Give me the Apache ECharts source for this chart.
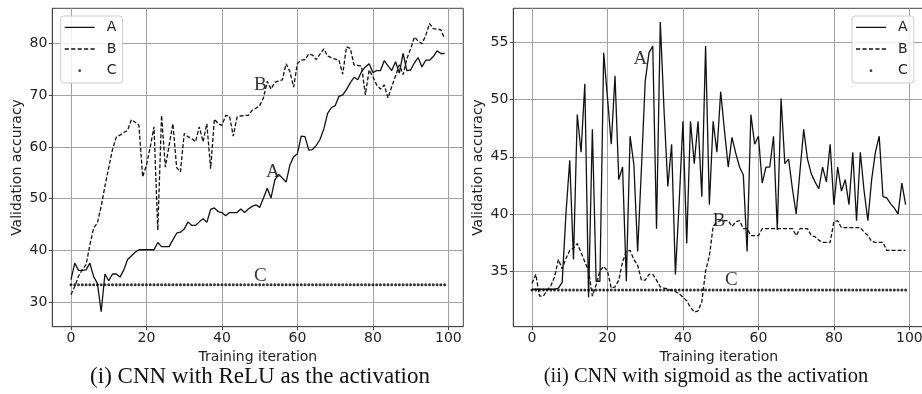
<!DOCTYPE html>
<html><head><meta charset="utf-8">
<script src="https://cdn.jsdelivr.net/npm/echarts@6/dist/echarts.min.js"></script>
<style>html,body{margin:0;padding:0;background:#fff}#c{width:922px;height:394px}</style>
</head><body><div id="c"></div>
<script>
const iterations = [0,1,2,3,4,5,6,7,8,9,10,11,12,13,14,15,16,17,18,19,20,21,22,23,24,25,26,27,28,29,30,31,32,33,34,35,36,37,38,39,40,41,42,43,44,45,46,47,48,49,50,51,52,53,54,55,56,57,58,59,60,61,62,63,64,65,66,67,68,69,70,71,72,73,74,75,76,77,78,79,80,81,82,83,84,85,86,87,88,89,90,91,92,93,94,95,96,97,98,99];

// (i) CNN with ReLU
const reluA = [34.3,37.5,36.1,36.1,36.2,37.5,34.9,33.6,28.1,35.4,
  34.1,35.4,35.4,34.8,36.2,38.2,38.9,39.6,40.1,40.1,
  40.1,40.1,40.1,41.5,40.7,40.7,40.7,42.0,43.3,43.5,
  44.1,45.5,44.8,44.8,45.5,46.1,45.4,47.9,48.2,47.5,
  47.3,46.7,47.3,47.3,47.3,48.0,47.3,48.0,48.5,48.8,
  48.3,50.1,52.0,50.1,53.6,54.7,54.0,53.2,56.5,58.1,
  58.7,62.1,62.0,59.4,59.5,60.3,61.5,63.5,66.5,67.6,
  68.0,69.8,70.1,71.1,72.4,73.5,73.0,74.6,75.5,76.1,
  74.4,74.8,74.8,76.7,75.7,74.8,76.5,74.3,78.1,74.8,
  74.9,76.3,77.3,75.5,76.8,76.8,77.5,78.6,78.1,78.1];
const reluB = [31.4,33.0,35.0,36.2,37.2,41.0,44.3,45.3,48.5,52.4,
  56.0,59.5,61.9,62.3,62.8,63.2,65.3,64.8,64.2,54.2,
  56.5,60.0,63.9,43.9,66.1,56.1,60.3,64.5,56.0,55.2,
  62.6,62.0,61.6,61.0,63.9,61.0,64.5,55.8,65.4,64.5,
  64.2,66.1,66.0,62.1,65.8,66.0,66.1,66.1,67.1,67.5,
  68.0,69.5,72.7,71.2,72.5,72.8,73.0,76.1,74.6,71.6,
  76.2,76.8,76.9,78.0,77.8,76.9,78.0,79.0,77.6,77.3,
  77.0,76.8,74.1,79.4,79.1,75.9,75.8,75.6,70.1,74.9,
  73.6,72.0,71.2,72.0,69.5,71.7,73.8,75.9,74.0,77.1,
  79.0,81.3,80.5,80.0,81.6,83.9,82.9,82.8,82.7,81.0];
const reluC = [33.33,33.33,33.33,33.33,33.33,33.33,33.33,33.33,33.33,33.33,
  33.33,33.33,33.33,33.33,33.33,33.33,33.33,33.33,33.33,33.33,
  33.33,33.33,33.33,33.33,33.33,33.33,33.33,33.33,33.33,33.33,
  33.33,33.33,33.33,33.33,33.33,33.33,33.33,33.33,33.33,33.33,
  33.33,33.33,33.33,33.33,33.33,33.33,33.33,33.33,33.33,33.33,
  33.33,33.33,33.33,33.33,33.33,33.33,33.33,33.33,33.33,33.33,
  33.33,33.33,33.33,33.33,33.33,33.33,33.33,33.33,33.33,33.33,
  33.33,33.33,33.33,33.33,33.33,33.33,33.33,33.33,33.33,33.33,
  33.33,33.33,33.33,33.33,33.33,33.33,33.33,33.33,33.33,33.33,
  33.33,33.33,33.33,33.33,33.33,33.33,33.33,33.33,33.33,33.33];

// (ii) CNN with sigmoid
const sigA = [33.4,33.4,33.4,33.4,33.4,33.4,33.4,33.5,34.0,40.0,
  44.7,36.0,48.7,45.4,51.4,32.7,47.4,34.1,34.1,54.1,
  50.2,46.1,52.1,43.0,44.1,34.1,46.8,44.3,36.7,44.0,
  51.6,54.1,54.7,38.7,56.8,49.0,42.4,46.1,34.7,41.0,
  48.1,37.4,48.1,44.4,48.1,41.5,54.7,40.8,48.1,45.4,
  50.7,47.3,44.1,46.7,45.3,44.1,43.4,36.7,48.7,46.1,
  46.8,42.7,44.1,44.1,46.8,38.6,50.1,44.4,44.8,42.2,
  40.0,43.7,47.4,44.8,43.5,42.8,42.2,44.1,42.8,46.1,
  40.8,44.1,42.0,43.0,40.8,45.4,39.4,45.4,42.0,39.4,
  43.0,45.4,46.8,41.5,41.4,40.9,40.5,40.0,42.7,40.8];
const sigB = [33.9,34.7,32.8,32.8,33.3,33.7,34.5,36.0,35.2,36.1,
  36.8,37.0,37.4,36.6,35.8,35.0,32.8,33.8,35.0,35.4,
  35.0,33.5,33.6,34.2,35.8,36.7,36.8,36.0,35.5,34.2,
  34.2,34.7,34.7,34.2,33.6,33.5,33.4,33.3,33.2,33.0,
  32.7,32.4,31.8,31.4,31.5,32.3,35.0,36.3,38.9,39.3,
  39.4,39.4,39.4,38.9,39.3,39.4,38.7,38.7,38.1,38.1,
  38.1,38.7,38.7,38.7,38.7,38.7,38.7,38.7,38.7,38.7,
  38.1,38.7,38.7,38.7,38.1,38.0,37.7,37.5,37.5,37.5,
  39.3,39.4,38.8,38.8,38.8,38.8,38.8,38.8,38.4,38.1,
  37.6,37.5,37.5,37.5,36.8,36.8,36.8,36.8,36.8,36.8];
const sigC = [33.33,33.33,33.33,33.33,33.33,33.33,33.33,33.33,33.33,33.33,
  33.33,33.33,33.33,33.33,33.33,33.33,33.33,33.33,33.33,33.33,
  33.33,33.33,33.33,33.33,33.33,33.33,33.33,33.33,33.33,33.33,
  33.33,33.33,33.33,33.33,33.33,33.33,33.33,33.33,33.33,33.33,
  33.33,33.33,33.33,33.33,33.33,33.33,33.33,33.33,33.33,33.33,
  33.33,33.33,33.33,33.33,33.33,33.33,33.33,33.33,33.33,33.33,
  33.33,33.33,33.33,33.33,33.33,33.33,33.33,33.33,33.33,33.33,
  33.33,33.33,33.33,33.33,33.33,33.33,33.33,33.33,33.33,33.33,
  33.33,33.33,33.33,33.33,33.33,33.33,33.33,33.33,33.33,33.33,
  33.33,33.33,33.33,33.33,33.33,33.33,33.33,33.33,33.33,33.33];

// tick labels
const xTicks = [0, 20, 40, 60, 80, 100];
const reluYTicks = [30, 40, 50, 60, 70, 80];
const sigYTicks = [35, 40, 45, 50, 55];

// in-plot curve annotations: [text, x, y]
const reluNotes = [['A', 53.5, 55.2], ['B', 50.2, 72.0], ['C', 50.2, 35.1]];
const sigNotes = [['A', 28.7, 53.6], ['B', 49.6, 39.4], ['C', 52.8, 34.25]];

const seriesNames = ['A', 'B', 'C'];
const captions = ['(i) CNN with ReLU as the activation', '(ii) CNN with sigmoid as the activation'];

const SANS = 'DejaVu Sans';
const SERIF = 'Liberation Serif';
const INK = '#111';

function pairs(vals) { return vals.map((v, i) => [iterations[i], v]); }

function xAxisCfg(gi) {
  return {
    type: 'value', gridIndex: gi, min: -4.95, max: 103.95, interval: 20,
    name: 'Training iteration', nameLocation: 'middle', nameGap: 21,
    nameTextStyle: { fontFamily: SANS, fontSize: 14, color: '#222' },
    axisLine: { show: true, onZero: false, lineStyle: { color: '#444', width: 1 } },
    axisTick: { show: true, inside: false, length: 3.5, customValues: xTicks, lineStyle: { color: '#444', width: 1 } },
    axisLabel: { customValues: xTicks, fontFamily: SANS, fontSize: 14, color: '#222', margin: 5 },
    splitLine: { show: true, lineStyle: { color: '#a2a2a2', width: 1 } }
  };
}
function yAxisCfg(gi, min, max, ticks) {
  return {
    type: 'value', gridIndex: gi, min: min, max: max,
    name: 'Validation accuracy', nameLocation: 'middle', nameGap: 28,
    nameTextStyle: { fontFamily: SANS, fontSize: 14, color: '#222' },
    axisLine: { show: true, onZero: false, lineStyle: { color: '#444', width: 1 } },
    axisTick: { show: true, inside: false, length: 3.5, customValues: ticks, lineStyle: { color: '#444', width: 1 } },
    axisLabel: { customValues: ticks, fontFamily: SANS, fontSize: 14, color: '#222', margin: 5 },
    splitLine: { show: true, lineStyle: { color: '#a2a2a2', width: 1 } }
  };
}
function gridCfg(left) {
  return { left: left, top: 8.3, width: 411, height: 318.4, show: true, borderColor: '#444', borderWidth: 1,
    backgroundColor: 'transparent', containLabel: false, outerBoundsMode: 'none' };
}
// legend handle glyphs (30 x 14 boxes; tiny corner squares fix the bounding box)
const BOX = 'M0,0h0.01v0.01h-0.01Z M29.99,13.99h0.01v0.01h-0.01Z ';
const solidIcon = 'path://' + BOX + 'M0,6.35h30v1.3h-30Z';
const dashIcon = 'path://' + BOX + 'M0,6.35h4.2v1.3h-4.2Z M6.45,6.35h4.2v1.3h-4.2Z M12.9,6.35h4.2v1.3h-4.2Z M19.35,6.35h4.2v1.3h-4.2Z M25.8,6.35h4.2v1.3h-4.2Z';
const dotIcon = 'path://' + BOX + 'M13.6,7A1.4,1.4,0,1,0,16.4,7A1.4,1.4,0,1,0,13.6,7Z';
function legendCfg(left) {
  return {
    left: left, top: 16, orient: 'vertical', itemWidth: 30, itemHeight: 14, itemGap: 7.7,
    padding: [4.3, 6, 5.3, 4], backgroundColor: 'rgba(255,255,255,0.85)', borderColor: '#cccccc', borderWidth: 1, borderRadius: 3,
    textStyle: { fontFamily: SANS, fontSize: 14, color: '#222', padding: [0, 0, 0, 7] },
    selectedMode: false,
    itemStyle: { color: INK, borderWidth: 0 },
    lineStyle: { width: 0 },
    data: [{ name: seriesNames[0], icon: solidIcon }, { name: seriesNames[1], icon: dashIcon }, { name: seriesNames[2], icon: dotIcon }]
  };
}
function seriesFor(gi, a, b, c, notes) {
  return [
    { type: 'line', name: seriesNames[0], xAxisIndex: gi, yAxisIndex: gi, data: pairs(a), symbol: 'none',
      lineStyle: { color: INK, width: 1.3 }, itemStyle: { color: INK }, z: 2 },
    { type: 'line', name: seriesNames[1], xAxisIndex: gi, yAxisIndex: gi, data: pairs(b), symbol: 'none',
      lineStyle: { color: INK, width: 1.3, type: [4, 2] }, itemStyle: { color: INK }, z: 3 },
    { type: 'scatter', name: seriesNames[2], xAxisIndex: gi, yAxisIndex: gi, data: pairs(c), symbol: 'circle', symbolSize: 3,
      itemStyle: { color: '#000' }, z: 4 },
    { type: 'scatter', name: 'notes' + gi, xAxisIndex: gi, yAxisIndex: gi, symbolSize: 0, silent: true, z: 6,
      data: notes.map(n => [n[1], n[2], n[0]]),
      label: { show: true, position: 'inside', formatter: p => p.value[2], fontFamily: SERIF, fontSize: 19, color: '#000' } }
  ];
}

const chart = echarts.init(document.getElementById('c'), null, { renderer: 'canvas' });
chart.setOption({
  animation: false,
  backgroundColor: '#fff',
  grid: [gridCfg(52.3), gridCfg(513.3)],
  xAxis: [xAxisCfg(0), xAxisCfg(1)],
  yAxis: [yAxisCfg(0, 25.2, 86.85, reluYTicks), yAxisCfg(1, 30.12, 58.0, sigYTicks)],
  legend: [legendCfg(60.7), legendCfg(852)],
  series: [].concat(seriesFor(0, reluA, reluB, reluC, reluNotes), seriesFor(1, sigA, sigB, sigC, sigNotes)),
  graphic: [
    { type: 'text', x: 260, y: 377, style: { text: captions[0], fontFamily: SERIF, fontSize: 23, fill: INK, align: 'center', verticalAlign: 'middle' } },
    { type: 'text', x: 706, y: 377, style: { text: captions[1], fontFamily: SERIF, fontSize: 20.5, fill: INK, align: 'center', verticalAlign: 'middle' } }
  ]
});
</script>
</body></html>
